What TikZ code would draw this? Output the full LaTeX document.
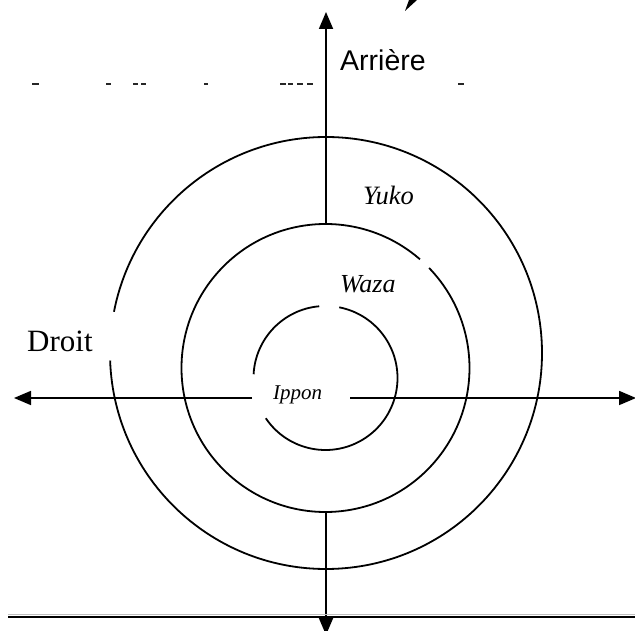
\documentclass[tikz,border=0pt]{standalone}
\usepackage{fontspec}
\setmainfont{Liberation Serif}
\newfontfamily\arialfont{Liberation Sans}
\usetikzlibrary{arrows.meta}
\begin{document}
\begin{tikzpicture}[x=1pt,y=1pt,
  ring/.style={line width=1.8pt},
  axis/.style={line width=1.8pt, -{Triangle[length=17pt,width=14pt]}},
  lbl/.style={inner sep=0pt, anchor=base west},
  frag/.style={line width=1.6pt, black!85}]
\useasboundingbox (0,0) rectangle (635,630);
\clip (0,0) rectangle (635,630);

% centres
\coordinate (co) at (326,277);
\coordinate (cm) at (325.5,262);
\coordinate (ci) at (325.5,252);

% circles (with gaps)
\draw[ring] ([shift={(182:216)}]co) arc[start angle=182, end angle=529, radius=216];
\draw[ring] ([shift={(49:144)}]cm) arc[start angle=49, end angle=404, radius=144];
\draw[ring] ([shift={(95:72)}]ci) arc[start angle=95, end angle=177, radius=72];
\draw[ring] ([shift={(214:72)}]ci) arc[start angle=214, end angle=439, radius=72];

% axis end points
\coordinate (vtop0) at (326,406);
\coordinate (vtop) at (326,618);
\coordinate (vbot0) at (326,118);
\coordinate (vbot) at (326,-5);
\coordinate (hl0) at (252,232);
\coordinate (hl) at (14,232);
\coordinate (hr0) at (350,232);
\coordinate (hr) at (636,232);

\draw[axis] (vtop0) -- (vtop);
\draw[axis] (vbot0) -- (vbot);
\draw[axis] (hl0) -- (hl);
\draw[axis] (hr0) -- (hr);

% bottom rule
\coordinate (rl) at (8,13);
\coordinate (rr) at (640,13);
\draw[line width=1.5pt, black!25] ([yshift=2.5pt]rl) -- ([yshift=2.5pt]rr);
\draw[line width=2.8pt] (rl) -- (rr);

% labels
\node[lbl, font=\arialfont\fontsize{28.5}{30}\selectfont] (arr) at (340,559) {Arrière};
\node[lbl, font=\fontsize{31}{32}\selectfont] (droit) at (27,278) {Droit};
\node[lbl, font=\itshape\fontsize{26.5}{28}\selectfont] (yuko) at (363,425) {Yuko};
\node[lbl, font=\itshape\fontsize{26}{28}\selectfont] (waza) at (340,337) {Waza};
\node[lbl, font=\itshape\fontsize{21}{23}\selectfont] (ippon) at (273,230) {Ippon};

% clipped fragments of text lines
\foreach \a/\b in {32/39,106/111,133/138,141/146,204/208,280/286,288/293,297/303,307/313,458/464}
  \draw[frag] (\a,546) -- (\b,546);
\fill (409,630) -- (417,630) -- (405,619) -- cycle;
\end{tikzpicture}
\end{document}
